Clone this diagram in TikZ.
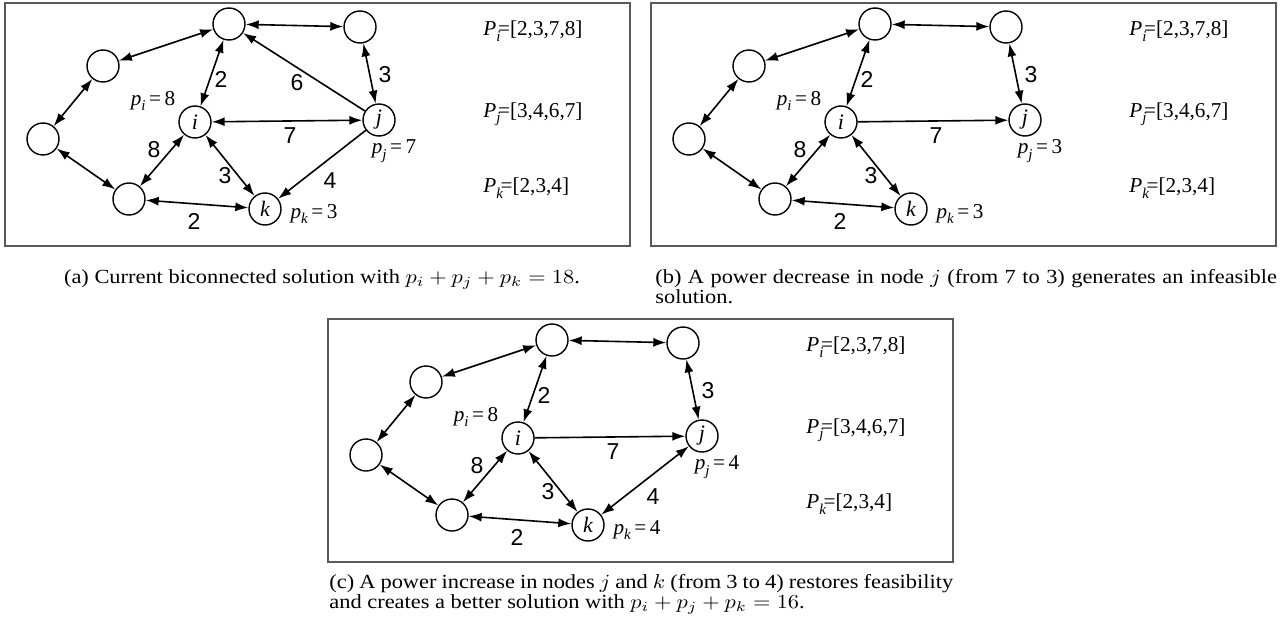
\documentclass[tikz,border=0pt]{standalone}
\usepackage{fontspec}
\setmainfont{Liberation Serif}
\newfontfamily\wtfont{Liberation Sans}
\usetikzlibrary{arrows.meta}

\tikzset{
  site/.style={draw, circle, line width=0.7pt, minimum size=16pt, inner sep=0pt, font=\fontsize{11}{11}\selectfont\itshape},
  link/.style={line width=0.8pt, {Latex[length=6.5pt,width=4.5pt]}-{Latex[length=6.5pt,width=4.5pt]}},
  onelink/.style={line width=0.8pt, -{Latex[length=6.5pt,width=4.5pt]}},
  wt/.style={font=\wtfont\fontsize{11.5}{11.5}\selectfont, inner sep=0pt},
  pw/.style={font=\fontsize{10.6}{10.6}\selectfont, inner sep=0pt},
  capt/.style={font=\fontsize{10}{10}\selectfont, inner sep=0pt},
  panelbox/.style={draw=black!65, line width=0.8pt}
}

\newcommand{\lowsub}[1]{\raisebox{-0.55ex}{\fontsize{7.5}{7.5}\selectfont\itshape #1}}
\newcommand{\wide}[1]{\scalebox{1.12}[1]{#1}}

% one panel: prefix, p_j, p_k
\newcommand{\netpanel}[3]{%
  \draw[panelbox] (5,3) rectangle (630,246);
  \node[site] (#1top) at (229,24) {};
  \node[site] (#1tr) at (360,27) {};
  \node[site] (#1ul) at (103,66) {};
  \node[site] (#1l) at (43,139) {};
  \node[site] (#1bl) at (129,199) {};
  \node[site] (#1i) at (195,122) {i};
  \node[site] (#1j) at (379,120) {j};
  \node[site] (#1k) at (265,209) {k};
  \node[pw] (#1pi) at (153,101) {\textit{p}\lowsub{i}\,=\,8};
  \node[pw] (#1pj) at (394,151) {\textit{p}\lowsub{j}\,=\,#2};
  \node[pw] (#1pk) at (314,214) {\textit{p}\lowsub{k}\,=\,#3};
  \node[pw, anchor=west] (#1Pi) at (483,31) {\textit{P}\lowsub{i}\kern-1.2pt=[2,3,7,8]};
  \node[pw, anchor=west] (#1Pj) at (483,114) {\textit{P}\lowsub{j}\kern-1.2pt=[3,4,6,7]};
  \node[pw, anchor=west] (#1Pk) at (483,188) {\textit{P}\lowsub{k}\kern-1.2pt=[2,3,4]};
  \draw[link] (#1ul) -- (#1top);
  \draw[link] (#1top) -- (#1tr);
  \draw[link] (#1ul) -- (#1l);
  \draw[link] (#1l) -- (#1bl);
  \draw[link] (#1top) -- (#1i);
  \draw[link] (#1tr) -- (#1j);
  \draw[link] (#1bl) -- (#1i);
  \draw[link] (#1i) -- (#1k);
  \draw[link] (#1bl) -- (#1k);
  \node[wt] (#1wti) at (221,79) {2};
  \node[wt] (#1wtj) at (385,75) {3};
  \node[wt] (#1wij) at (290,136) {7};
  \node[wt] (#1wbi) at (154,150) {8};
  \node[wt] (#1wik) at (225,176) {3};
  \node[wt] (#1wbk) at (194,221) {2};
}

\begin{document}
\begin{tikzpicture}[x=0.5pt, y=-0.5pt]
\useasboundingbox (0,0) rectangle (1284,631);

% (a) current solution
\begin{scope}
  \netpanel{a}{7}{3}
  \draw[onelink] (aj) -- (atop);
  \draw[link] (ai) -- (aj);
  \draw[onelink] (aj) -- (ak);
  \node[wt] (awjt) at (297,83) {6};
  \node[wt] (awjk) at (330,181) {4};
\end{scope}

% (b) power decrease in j
\begin{scope}[shift={(646,0)}]
  \netpanel{b}{3}{3}
  \draw[onelink] (bi) -- (bj);
\end{scope}

% (c) power increase in j and k
\begin{scope}[shift={(323,316)}]
  \netpanel{c}{4}{4}
  \draw[onelink] (ci) -- (cj);
  \draw[link] (ck) -- (cj);
  \node[wt] (cwjk) at (330,181) {4};
\end{scope}

% captions
\node[capt, anchor=base] (capa) at (322,283) {\wide{(a) Current biconnected solution with $p_i+p_j+p_k=18$.}};
\node[capt, anchor=base west] (capb) at (655,283) {\wide{\makebox[277.5pt][s]{(b) A power decrease in node $j$ (from 7 to 3) generates an infeasible}}};
\node[capt, anchor=base west] (capb2) at (655,303) {\wide{solution.}};
\node[capt, anchor=base west] (capc) at (329,588) {\wide{\makebox[278.5pt][s]{(c) A power increase in nodes $j$ and $k$ (from 3 to 4) restores feasibility}}};
\node[capt, anchor=base west] (capc2) at (329,608) {\wide{and creates a better solution with $p_i+p_j+p_k=16$.}};
\end{tikzpicture}
\end{document}
